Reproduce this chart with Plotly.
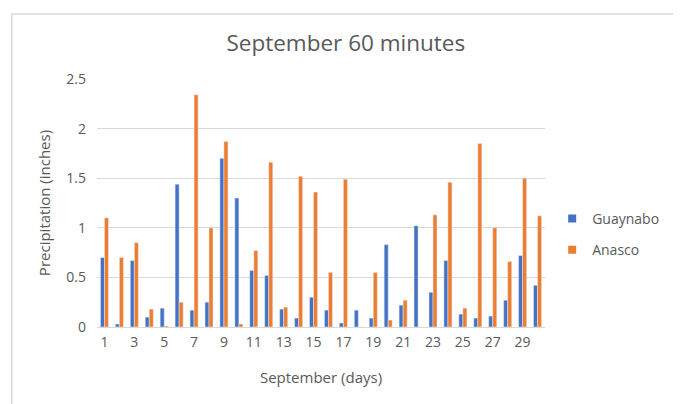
import plotly.graph_objects as go

days = list(range(1, 31))
guaynabo = [0.70, 0.03, 0.67, 0.10, 0.19, 1.44, 0.17, 0.25, 1.70, 1.30,
            0.57, 0.52, 0.18, 0.09, 0.30, 0.17, 0.04, 0.17, 0.09, 0.83,
            0.22, 1.02, 0.35, 0.67, 0.13, 0.09, 0.11, 0.27, 0.72, 0.42]
anasco = [1.10, 0.70, 0.85, 0.18, 0.01, 0.25, 2.34, 1.00, 1.87, 0.03,
          0.77, 1.66, 0.20, 1.52, 1.36, 0.55, 1.49, 0.0, 0.55, 0.07,
          0.27, 0.0, 1.13, 1.46, 0.19, 1.85, 1.00, 0.66, 1.50, 1.12]
series_names = ["Guaynabo", "Anasco"]
series_colors = ["#4472C4", "#ED7D31"]
x_ticks = list(range(1, 31, 2))
y_ticks = [0, 0.5, 1, 1.5, 2, 2.5]
y_tick_labels = ["0", "0.5", "1", "1.5", "2", "2.5"]

font_family = "'Open Sans', sans-serif"
txt = "#595959"

fig = go.Figure()
for name, vals, col in zip(series_names, [guaynabo, anasco], series_colors):
    fig.add_trace(go.Bar(x=days, y=vals, name=name, marker_color=col,
                         showlegend=False, legendgroup=name))
# legend entries with small square keys
for name, col in zip(series_names, series_colors):
    fig.add_trace(go.Scatter(x=[None], y=[None], mode="markers", name=name,
                             marker=dict(symbol="square", size=8, color=col),
                             legendgroup=name, showlegend=True))

# page body adds an 8px offset, so the figure is 8px smaller and margins shifted
fig.update_layout(
    width=673, height=396,
    margin=dict(l=89, r=136, t=71, b=77),
    paper_bgcolor="white", plot_bgcolor="white",
    font=dict(family=font_family, color=txt, size=13),
    title=dict(text="September 60 minutes", x=0.502, xanchor="center",
               y=0.912, yanchor="middle",
               font=dict(size=22.5, color=txt, family=font_family)),
    barmode="group", bargap=0.46, bargroupgap=0,
    legend=dict(x=1.016, y=0.373, xanchor="left", yanchor="middle",
                font=dict(size=14, color=txt), tracegroupgap=10,
                itemwidth=30, bgcolor="rgba(0,0,0,0)"),
    showlegend=True,
)
fig.update_xaxes(range=[0.5, 30.5], tickvals=x_ticks, ticktext=[str(v) for v in x_ticks],
                 showgrid=False, zeroline=False, showline=True,
                 linecolor="#d9d9d9", linewidth=1, ticks="",
                 tickfont=dict(size=14, color=txt), ticklabelstandoff=2,
                 title=dict(text="September (days)", font=dict(size=15, color=txt), standoff=22))
fig.update_yaxes(range=[0, 2.5], tickvals=y_ticks, ticktext=y_tick_labels,
                 showgrid=True, gridcolor="#d9d9d9", gridwidth=1,
                 zeroline=False, showline=False, ticks="",
                 tickfont=dict(size=14, color=txt), ticklabelstandoff=10,
                 title=dict(text="Precipitation (inches)", font=dict(size=15, color=txt), standoff=12))

# outer chart border
fig.add_shape(type="rect", xref="paper", yref="paper",
              x0=-0.19, x1=1.292, y0=-0.34, y1=1.262,
              line=dict(color="#d9d9d9", width=1.5), fillcolor="rgba(0,0,0,0)", layer="below")

fig.write_html("out.html")
